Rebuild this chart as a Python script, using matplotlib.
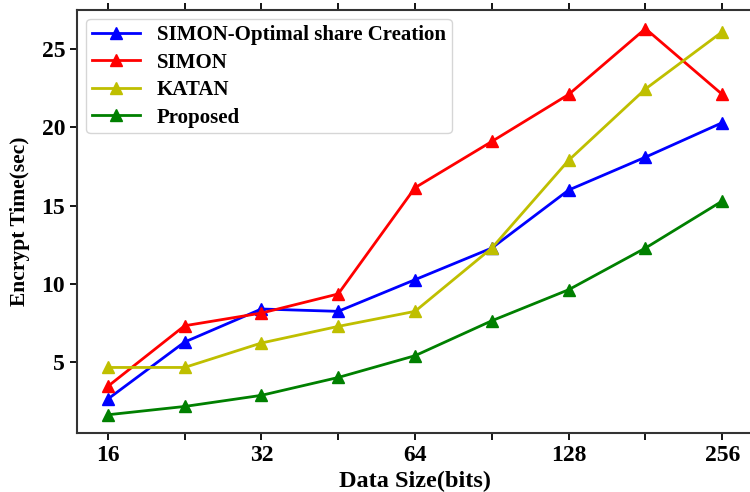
import matplotlib
matplotlib.use("Agg")
import matplotlib.pyplot as plt
import numpy as np

plt.rcParams['font.family'] = ['Liberation Serif', 'DejaVu Serif']
plt.rcParams['font.weight'] = 'bold'

data_sizes = ["16", "", "32", "", "64", "", "128", "", "256"]
simon_optimal = [2.66, 6.3, 8.41, 8.26, 10.28, 12.3, 16.0, 18.1, 20.3]
simon = [3.47, 7.34, 8.15, 9.37, 16.15, 19.1, 22.1, 26.3, 22.1]
katan = [4.68, 4.68, 6.24, 7.3, 8.26, 12.3, 17.9, 22.45, 26.1]
proposed = [1.66, 2.19, 2.9, 4.04, 5.43, 7.66, 9.64, 12.3, 15.3]

series = [
    ("SIMON-Optimal share Creation", simon_optimal, "b"),
    ("SIMON", simon, "r"),
    ("KATAN", katan, "y"),
    ("Proposed", proposed, "g"),
]

fig = plt.figure(figsize=(7.5, 4.92), dpi=100)
ax = fig.add_axes([0.1027, 0.12, 0.9013, 0.86])

x = np.arange(len(data_sizes))
for name, vals, col in series:
    ax.plot(x, vals, color=col, marker="^", markersize=9, linewidth=2, label=name)

ax.set_xlim(-0.4, 8.4)
ax.set_ylim(0.5, 27.5)
ax.set_xticks(x)
ax.set_xticklabels(data_sizes)
ax.set_yticks([5, 10, 15, 20, 25])
ax.tick_params(axis='both', labelsize=17, width=1.3, length=5, top=True)
for lab in ax.get_xticklabels() + ax.get_yticklabels():
    lab.set_fontweight('bold')
for sp in ax.spines.values():
    sp.set_linewidth(1.5)
    sp.set_color('#333333')

ax.set_xlabel("Data Size(bits)", fontsize=17.5, fontweight='bold', labelpad=3.5)
ax.set_ylabel("Encrypt Time(sec)", fontsize=15.5, fontweight='bold')
ax.yaxis.set_label_coords(-0.07, 0.5)

leg = ax.legend(loc="upper left", prop={'weight': 'bold', 'size': 15},
                handlelength=2.3, borderpad=0.28, labelspacing=0.36,
                borderaxespad=0.45)

fig.savefig("out.png", dpi=100)
